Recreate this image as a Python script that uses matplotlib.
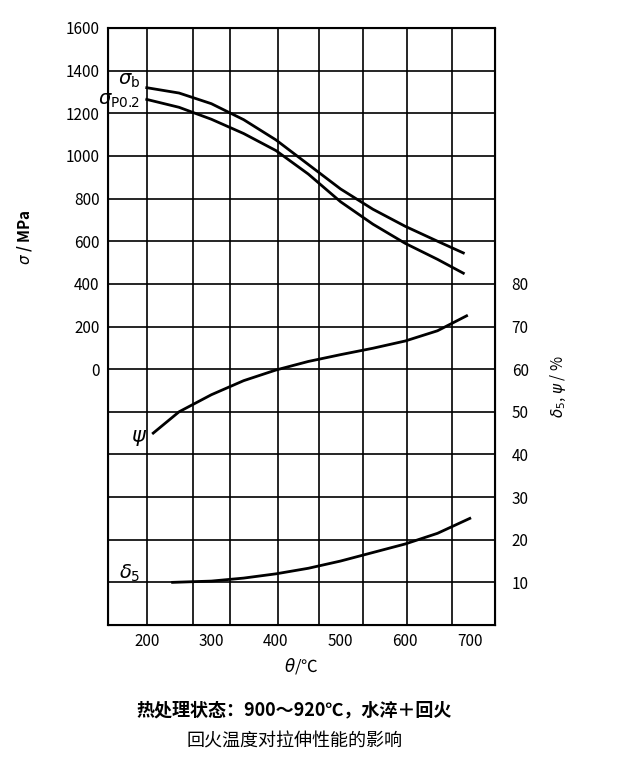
import numpy as np
import matplotlib.pyplot as plt

plt.rcParams['font.family'] = ['Noto Sans CJK SC', 'DejaVu Sans']

temp_b = [200, 250, 300, 350, 400, 450, 500, 550, 600, 650, 690]
sigma_b = [1320, 1295, 1245, 1170, 1075, 960, 845, 750, 670, 600, 545]
temp_p = [200, 250, 300, 350, 400, 450, 500, 550, 600, 650, 690]
sigma_p = [1265, 1228, 1172, 1105, 1025, 915, 785, 680, 590, 515, 450]
temp_psi = [210, 250, 300, 350, 400, 450, 500, 550, 600, 650, 695]
psi = [45, 50, 54, 57.3, 59.8, 61.8, 63.4, 64.9, 66.6, 69, 72.5]
temp_d = [240, 300, 350, 400, 450, 500, 550, 600, 650, 700]
delta5 = [10, 10.3, 11, 12, 13.3, 15, 17, 19, 21.5, 25]
grid_x = [200, 272, 329, 403, 467, 535, 603, 672]
xticks = [200, 300, 400, 500, 600, 700]
left_ticks = [0, 200, 400, 600, 800, 1000, 1200, 1400, 1600]
right_ticks = [10, 20, 30, 40, 50, 60, 70, 80]

fig = plt.figure(figsize=(6.4, 7.81), dpi=100)
ax = fig.add_axes([108/640, 1-625/781, 387/640, 597/781])
ax.set_xlim(140, 739)
ax.set_ylim(-1200, 1600)
for gx in grid_x:
    ax.axvline(gx, color='black', lw=1.2)
for gy in np.arange(-1200, 1601, 200):
    ax.axhline(gy, color='black', lw=1.2)
ax.plot(temp_b, sigma_b, color='black', lw=2)
ax.plot(temp_p, sigma_p, color='black', lw=2)
ax.set_xticks(xticks)
ax.set_yticks(left_ticks)
ax.tick_params(length=0, labelsize=11, pad=6)
for s in ax.spines.values():
    s.set_linewidth(1.5)
ax.set_xlabel(r'$\theta$/℃', fontsize=12)
ax.set_ylabel(r'$\sigma$ / MPa', fontsize=11, fontweight='bold')
ax.yaxis.set_label_coords(-0.19, 0.65)

ax2 = ax.twinx()
ax2.set_ylim(0, 140)
ax2.plot(temp_psi, psi, color='black', lw=2)
ax2.plot(temp_d, delta5, color='black', lw=2)
ax2.set_yticks(right_ticks)
ax2.tick_params(length=0, labelsize=11, pad=12)
ax2.set_ylabel(r'$\delta_5$, $\psi$ / %', fontsize=11)
ax2.yaxis.set_label_coords(1.14, 0.4)

ax.text(190, 1360, r'$\sigma_{\rm b}$', fontsize=14, ha='right', va='center')
ax.text(190, 1265, r'$\sigma_{\rm P0.2}$', fontsize=14, ha='right', va='center')
ax2.text(200, 44, r'$\psi$', fontsize=15, ha='right', va='center')
ax2.text(190, 12, r'$\delta_5$', fontsize=14, ha='right', va='center')

fig.text(0.46, 1-710/781, '热处理状态：900～920℃，水淬＋回火', fontsize=13, ha='center', va='center', fontweight='bold')
fig.text(0.46, 1-742/781, '回火温度对拉伸性能的影响', fontsize=13, ha='center', va='center')
fig.savefig('out.png', dpi=100)
